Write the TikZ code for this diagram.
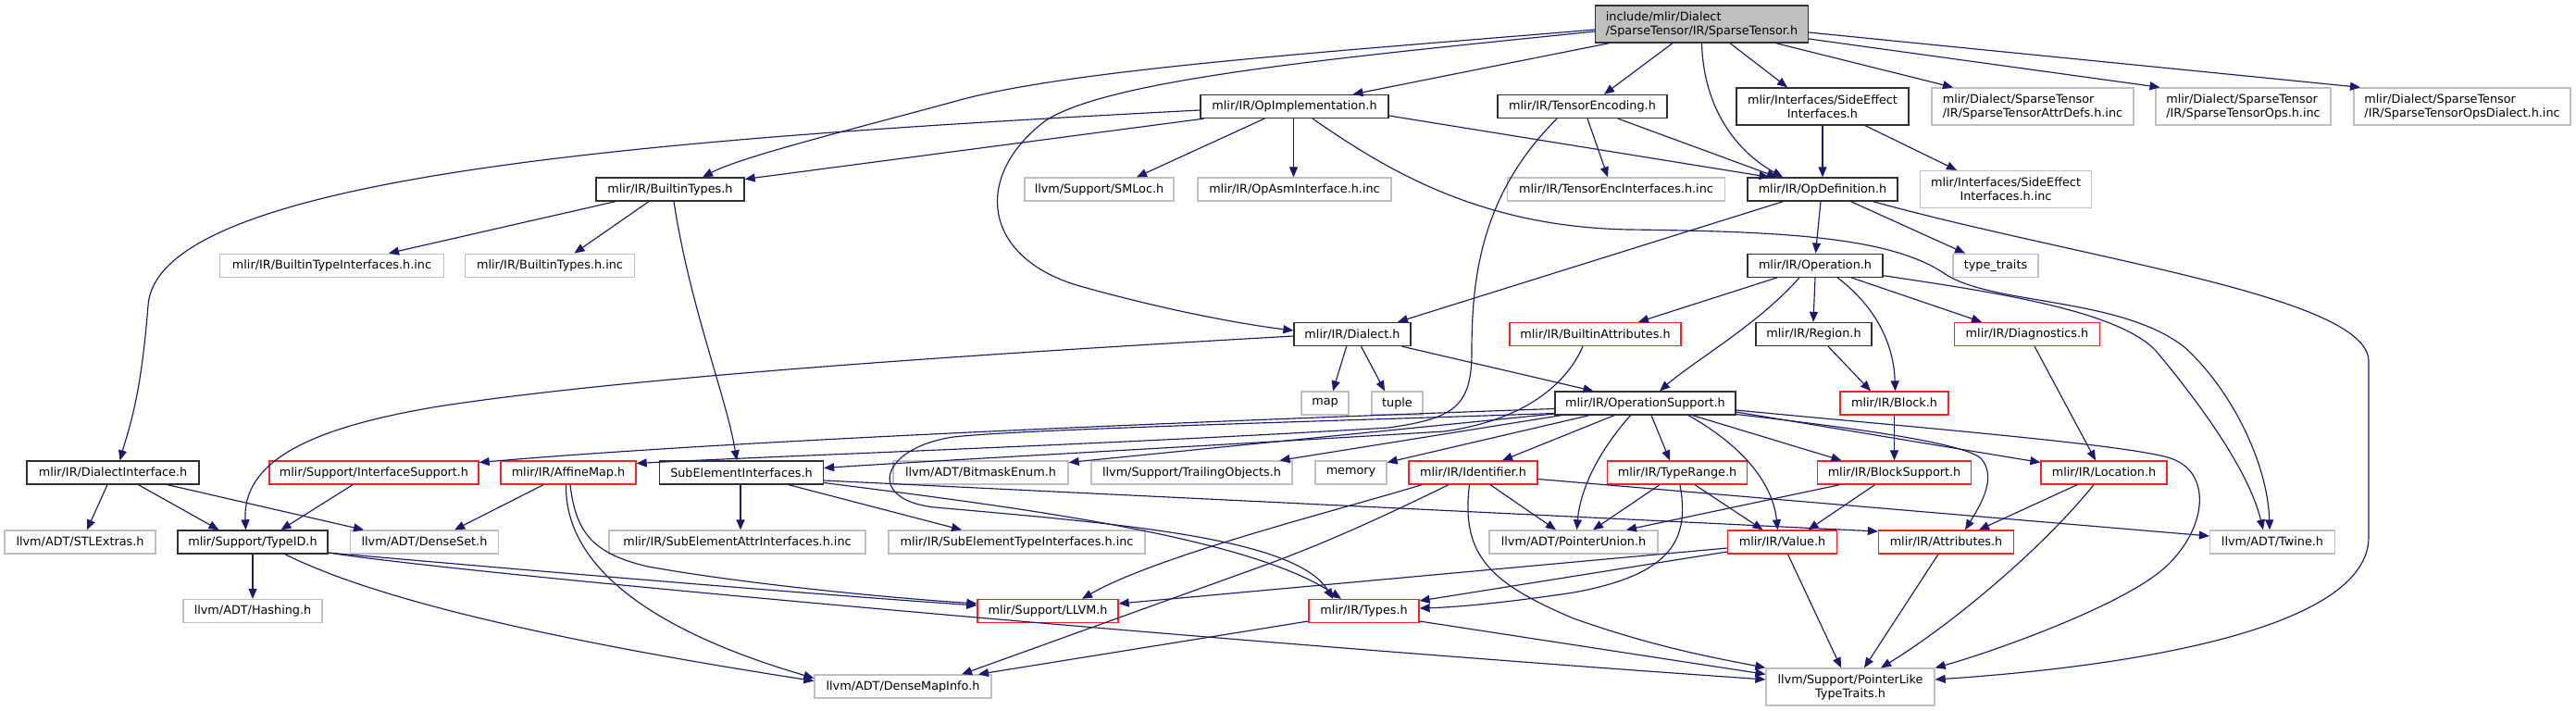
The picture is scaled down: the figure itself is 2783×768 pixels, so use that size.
\documentclass[tikz,border=0pt]{standalone}
\usepackage{fontspec}
\setmainfont{DejaVu Sans}
\usetikzlibrary{arrows.meta}
\definecolor{edgec}{HTML}{191970}
\definecolor{grayb}{HTML}{BFBFBF}
\definecolor{redb}{HTML}{FF2020}
\definecolor{darkb}{HTML}{303030}
\definecolor{rootc}{HTML}{BFBFBF}
\begin{document}
\begin{tikzpicture}[x=1pt,y=-1pt,
  nb/.style={draw, line width=1.3pt, minimum height=25pt, inner xsep=2pt, inner ysep=0pt, fill=white,
    font=\fontsize{12.8}{15}\selectfont},
  blk/.style={nb, draw=darkb},
  gry/.style={nb, draw=grayb},
  rd/.style={nb, draw=redb},
  two/.style={minimum height=40pt, align=left},
  twoc/.style={minimum height=40pt, align=center},
  arr/.style={draw=edgec, line width=1.15pt, -{Triangle[length=11pt,width=9pt]}},
]
\useasboundingbox (0,0) rectangle (2783,768);
% ---------- nodes ----------
\node[blk, fill=rootc, two, minimum width=230] (root) at (1838.5,26) {include/mlir/Dialect\\/SparseTensor/IR/SparseTensor.h};
\node[blk, minimum width=203] (opimpl) at (1398.5,115) {mlir/IR/OpImplementation.h};
\node[blk, minimum width=183] (tenc) at (1709.5,115) {mlir/IR/TensorEncoding.h};
\node[blk, twoc, minimum width=186] (sideeff) at (1969,115) {mlir/Interfaces/SideEffect\\Interfaces.h};
\node[gry, two, minimum width=218] (attrdefs) at (2196,115) {mlir/Dialect/SparseTensor\\/IR/SparseTensorAttrDefs.h.inc};
\node[gry, two, minimum width=189] (opsinc) at (2423.5,115) {mlir/Dialect/SparseTensor\\/IR/SparseTensorOps.h.inc};
\node[gry, two, minimum width=234] (opsdialect) at (2660,115) {mlir/Dialect/SparseTensor\\/IR/SparseTensorOpsDialect.h.inc};
\node[blk, minimum width=160] (btypes) at (724,204.5) {mlir/IR/BuiltinTypes.h};
\node[gry, minimum width=161] (smloc) at (1187.5,204.5) {llvm/Support/SMLoc.h};
\node[gry, minimum width=209] (opasm) at (1398.5,204.5) {mlir/IR/OpAsmInterface.h.inc};
\node[gry, minimum width=235] (tencinc) at (1746,204.5) {mlir/IR/TensorEncInterfaces.h.inc};
\node[blk, minimum width=162] (opdef) at (1969,204.5) {mlir/IR/OpDefinition.h};
\node[gry, twoc, minimum width=185] (sideeffinc) at (2167,204.5) {mlir/Interfaces/SideEffect\\Interfaces.h.inc};
\node[gry, minimum width=242] (btiface) at (358.5,286.7) {mlir/IR/BuiltinTypeInterfaces.h.inc};
\node[gry, minimum width=183] (btinc) at (594,286.7) {mlir/IR/BuiltinTypes.h.inc};
\node[blk, minimum width=146] (operation) at (1961,286.7) {mlir/IR/Operation.h};
\node[gry, minimum width=92] (ttraits) at (2156,286.7) {type\_traits};
\node[blk, minimum width=126] (dialect) at (1461,361) {mlir/IR/Dialect.h};
\node[rd, minimum width=185] (battr) at (1723.5,361) {mlir/IR/BuiltinAttributes.h};
\node[blk, minimum width=125] (region) at (1959.5,361) {mlir/IR/Region.h};
\node[rd, minimum width=157] (diag) at (2190,361) {mlir/IR/Diagnostics.h};
\node[gry, minimum width=51] (map) at (1431.5,435.5) {map};
\node[gry, minimum width=55] (tuple) at (1509.5,435.5) {tuple};
\node[blk, minimum width=195] (opsup) at (1777.5,435.5) {mlir/IR/OperationSupport.h};
\node[rd, minimum width=117] (block) at (2046.5,435.5) {mlir/IR/Block.h};
\node[blk, minimum width=186] (diface) at (122,510.5) {mlir/IR/DialectInterface.h};
\node[rd, minimum width=226] (isupport) at (404,510.5) {mlir/Support/InterfaceSupport.h};
\node[rd, minimum width=146] (amap) at (614,510.5) {mlir/IR/AffineMap.h};
\node[blk, minimum width=177] (subelem) at (801,510.5) {SubElementInterfaces.h};
\node[gry, minimum width=189] (bitmask) at (1059.5,510.5) {llvm/ADT/BitmaskEnum.h};
\node[gry, minimum width=217] (trailing) at (1287.5,510.5) {llvm/Support/TrailingObjects.h};
\node[gry, minimum width=77] (memory) at (1459.5,510.5) {memory};
\node[rd, minimum width=139] (ident) at (1591.5,510.5) {mlir/IR/Identifier.h};
\node[rd, minimum width=151] (trange) at (1812,510.5) {mlir/IR/TypeRange.h};
\node[rd, minimum width=166] (bsupport) at (2046.5,510.5) {mlir/IR/BlockSupport.h};
\node[rd, minimum width=136] (location) at (2273,510.5) {mlir/IR/Location.h};
\node[gry, minimum width=163] (stlx) at (86.5,585.5) {llvm/ADT/STLExtras.h};
\node[blk, minimum width=162] (typeid) at (273,585.5) {mlir/Support/TypeID.h};
\node[gry, minimum width=160] (dset) at (458.5,585.5) {llvm/ADT/DenseSet.h};
\node[gry, minimum width=277] (seattr) at (796.5,585.5) {mlir/IR/SubElementAttrInterfaces.h.inc};
\node[gry, minimum width=277] (setype) at (1098.5,585.5) {mlir/IR/SubElementTypeInterfaces.h.inc};
\node[gry, minimum width=182] (punion) at (1700,585.5) {llvm/ADT/PointerUnion.h};
\node[rd, minimum width=118] (value) at (1925.5,585.5) {mlir/IR/Value.h};
\node[rd, minimum width=146] (attrs) at (2102.5,585.5) {mlir/IR/Attributes.h};
\node[gry, minimum width=135] (twine) at (2455,585.5) {llvm/ADT/Twine.h};
\node[gry, minimum width=150] (hashing) at (273,660) {llvm/ADT/Hashing.h};
\node[rd, minimum width=152] (llvmh) at (1132,660) {mlir/Support/LLVM.h};
\node[rd, minimum width=119] (types) at (1473.5,660) {mlir/IR/Types.h};
\node[gry, minimum width=191] (dmi) at (975.5,741.5) {llvm/ADT/DenseMapInfo.h};
\node[gry, twoc, minimum width=182] (pltt) at (1999,742) {llvm/Support/PointerLike\\TypeTraits.h};
% ---------- edges ----------
% root
\draw[arr] ([yshift=-6]root.west) .. controls (1450,55) and (1150,75) .. (1030,110) .. controls (900,145) and (800,170) .. ([xshift=35]btypes.north);
\draw[arr] ([yshift=-8]root.west) .. controls (1450,62) and (1200,85) .. (1130,130) .. controls (1050,190) and (1060,280) .. (1170,310) .. controls (1260,335) and (1340,350) .. ([yshift=4]dialect.west);
\draw[arr] ([xshift=-100]root.south) -- ([xshift=63]opimpl.north);
\draw[arr] ([xshift=-31.5]root.south) -- ([xshift=23.5]tenc.north);
\draw[arr] (root.south) .. controls (1840,110) and (1870,160) .. ([xshift=-43]opdef.north);
\draw[arr] ([xshift=30.5]root.south) -- ([xshift=-38]sideeff.north);
\draw[arr] ([xshift=80]root.south) -- ([xshift=-86]attrdefs.north);
\draw[arr] ([yshift=-16]root.east) -- ([xshift=-90]opsinc.north);
\draw[arr] ([yshift=-9]root.east) -- ([xshift=-110]opsdialect.north);
% SideEffectInterfaces
\draw[arr] (sideeff.south) -- (opdef.north);
\draw[arr] ([xshift=46]sideeff.south) -- ([xshift=-53]sideeffinc.north);
% OpImplementation
\draw[arr] ([yshift=-4]opimpl.west) .. controls (700,150) and (170,190) .. (160,330) .. controls (152,430) and (140,460) .. ([xshift=7.5]diface.north);
\draw[arr] ([xshift=-98]opimpl.south) -- ([yshift=11]btypes.east);
\draw[arr] ([xshift=-32.5]opimpl.south) -- ([xshift=40.5]smloc.north);
\draw[arr] ([xshift=-1]opimpl.south) -- ([xshift=-1]opasm.north);
\draw[arr] ([yshift=-10]opimpl.east) -- ([xshift=-57.5]opdef.north);
\draw[arr] ([xshift=19.5]opimpl.south) .. controls (1500,185) and (1600,245) .. (1760,248) .. controls (1920,250) and (2040,255) .. (2100,295) .. controls (2150,330) and (2290,320) .. (2360,375) .. controls (2410,420) and (2450,500) .. ([xshift=-3]twine.north);
% TensorEncoding
\draw[arr] ([xshift=5.5]tenc.south) -- ([xshift=-9]tencinc.north);
\draw[arr] ([xshift=38.5]tenc.south) -- ([xshift=-49]opdef.north);
\draw[arr] ([xshift=-27.5]tenc.south) .. controls (1600,210) and (1590,300) .. (1590,380) .. controls (1590,440) and (1570,452) .. (1500,462) .. controls (1200,480) and (850,492) .. ([yshift=10]amap.east);
% BuiltinTypes
\draw[arr] ([xshift=-59]btypes.south) -- ([xshift=61.5]btiface.north);
\draw[arr] ([xshift=-23]btypes.south) -- ([xshift=26.5]btinc.north);
\draw[arr] ([xshift=4]btypes.south) .. controls (745,330) and (785,430) .. ([xshift=-5]subelem.north);
% OpDefinition
\draw[arr] ([xshift=-42.5]opdef.south) -- ([xshift=49]dialect.north);
\draw[arr] ([xshift=-2]opdef.south) -- ([xshift=0.5]operation.north);
\draw[arr] ([xshift=30.5]opdef.south) -- ([xshift=-33]ttraits.north);
\draw[arr] ([xshift=54.5]opdef.south) .. controls (2250,280) and (2558,320) .. (2559,390) -- (2559,580) .. controls (2559,680) and (2300,720) .. ([yshift=8]pltt.east);
% Operation
\draw[arr] ([xshift=-41]operation.south) -- ([xshift=46.5]battr.north);
\draw[arr] ([xshift=-17]operation.south) .. controls (1900,350) and (1830,390) .. ([xshift=15.5]opsup.north);
\draw[arr] ([xshift=0]operation.south) -- ([xshift=-0.5]region.north);
\draw[arr] ([xshift=24]operation.south) .. controls (2025,330) and (2046,370) .. ([xshift=1]block.north);
\draw[arr] ([xshift=39]operation.south) -- ([xshift=-49]diag.north);
\draw[arr] ([yshift=-11]operation.east) .. controls (2150,315) and (2290,335) .. (2330,380) .. controls (2380,440) and (2430,510) .. ([xshift=-10]twine.north);
% Region, Diagnostics, BuiltinAttributes, Block
\draw[arr] ([xshift=15.5]region.south) -- ([xshift=-25.5]block.north);
\draw[arr] ([xshift=8]diag.south) -- ([xshift=-9]location.north);
\draw[arr] ([xshift=-13.5]battr.south) .. controls (1690,420) and (1640,455) .. (1560,466) .. controls (1300,482) and (1000,498) .. ([yshift=5]subelem.east);
\draw[arr] (block.south) -- (bsupport.north);
% Dialect
\draw[arr] ([xshift=-6.3]dialect.south) -- ([xshift=8.5]map.north);
\draw[arr] ([xshift=9.5]dialect.south) -- ([xshift=-13.5]tuple.north);
\draw[arr] ([xshift=53.6]dialect.south) -- ([xshift=-56]opsup.north);
\draw[arr] ([yshift=-2]dialect.west) .. controls (1100,380) and (700,405) .. (480,438) .. controls (330,462) and (262,500) .. ([xshift=-7.5]typeid.north);
% OperationSupport
\draw[arr] ([yshift=-6]opsup.west) .. controls (1300,455) and (800,475) .. ([yshift=11]isupport.east);
\draw[arr] ([yshift=-11]opsup.west) .. controls (1400,456) and (1100,464) .. (1030,472) .. controls (950,484) and (935,540) .. (1010,548) .. controls (1200,565) and (1400,580) .. ([xshift=-33.5]types.north);
\draw[arr] ([yshift=-11.5]opsup.west) -- ([yshift=11]bitmask.east);
\draw[arr] ([xshift=-91]opsup.south) -- ([xshift=95]trailing.north);
\draw[arr] ([xshift=-60.5]opsup.south) -- ([yshift=11]memory.east);
\draw[arr] ([xshift=-33.5]opsup.south) -- ([xshift=31.5]ident.north);
\draw[arr] ([xshift=-16]opsup.south) .. controls (1725,490) and (1707,530) .. ([xshift=3.5]punion.north);
\draw[arr] ([xshift=6.5]opsup.south) -- ([xshift=-8]trange.north);
\draw[arr] ([xshift=46.5]opsup.south) .. controls (1880,480) and (1915,520) .. ([xshift=-5]value.north);
\draw[arr] ([xshift=51]opsup.south) -- ([xshift=-57]bsupport.north);
\draw[arr] ([yshift=-9.5]opsup.east) -- ([yshift=11]location.west);
\draw[arr] ([yshift=-12]opsup.east) .. controls (2000,462) and (2120,478) .. (2140,495) .. controls (2158,515) and (2140,545) .. ([xshift=20.5]attrs.north);
\draw[arr] ([yshift=-7.5]opsup.east) .. controls (2050,460) and (2300,480) .. (2345,495) .. controls (2390,510) and (2385,570) .. (2340,612) .. controls (2295,654) and (2150,705) .. (pltt.north east);
% BlockSupport
\draw[arr] ([xshift=-59]bsupport.south) -- ([xshift=57]punion.north);
\draw[arr] ([xshift=-21]bsupport.south) -- ([xshift=28]value.north);
% Identifier
\draw[arr] ([xshift=18.5]ident.south) -- ([xshift=-19]punion.north);
\draw[arr] ([yshift=-7]ident.east) -- ([yshift=6.5]twine.west);
\draw[arr] ([xshift=-55.5]ident.south) .. controls (1450,550) and (1250,600) .. ([xshift=37]llvmh.north);
\draw[arr] ([xshift=-26.5]ident.south) .. controls (1480,565) and (1420,592) .. (1340,620) -- ([xshift=63.5]dmi.north);
\draw[arr] ([xshift=-4]ident.south) .. controls (1578,600) and (1610,630) .. (1700,668) .. controls (1790,700) and (1860,712) .. (pltt.north west);
% TypeRange
\draw[arr] ([xshift=-19]trange.south) -- ([xshift=21]punion.north);
\draw[arr] ([xshift=19]trange.south) -- ([xshift=-21]value.north);
\draw[arr] ([xshift=3]trange.south) .. controls (1825,580) and (1810,620) .. (1700,640) .. controls (1620,652) and (1570,656) .. ([yshift=3]types.east);
% Value
\draw[arr] ([yshift=-10.5]value.west) -- ([yshift=11]types.east);
\draw[arr] ([yshift=-6.5]value.west) -- ([yshift=8]llvmh.east);
\draw[arr] ([xshift=6]value.south) -- ([xshift=-10]pltt.north);
% Attributes, Location
\draw[arr] ([xshift=-8.5]attrs.south) -- ([xshift=15]pltt.north);
\draw[arr] ([xshift=-29]location.south) -- ([xshift=35.5]attrs.north);
\draw[arr] ([xshift=-11]location.south) .. controls (2200,600) and (2100,680) .. ([xshift=33]pltt.north);
% Types
\draw[arr] ([yshift=-11]types.west) -- ([xshift=81.5]dmi.north);
\draw[arr] ([yshift=-11]types.east) -- ([yshift=-7]pltt.north west);
% SubElementInterfaces
\draw[arr] ([xshift=-1]subelem.south) -- ([xshift=3.5]seattr.north);
\draw[arr] ([xshift=51]subelem.south) -- ([xshift=-59.5]setype.north);
\draw[arr] ([yshift=-8.5]subelem.east) -- ([yshift=11.5]attrs.west);
\draw[arr] ([yshift=-11]subelem.east) .. controls (1100,548) and (1350,580) .. ([xshift=-24.5]types.north);
% DialectInterface, InterfaceSupport
\draw[arr] ([xshift=-6]diface.south) -- ([xshift=7.5]stlx.north);
\draw[arr] ([xshift=27.5]diface.south) -- ([xshift=-36.5]typeid.north);
\draw[arr] ([xshift=59]diface.south) -- ([xshift=-65.5]dset.north);
\draw[arr] ([xshift=-23]isupport.south) -- ([xshift=30.5]typeid.north);
% AffineMap
\draw[arr] ([xshift=-27]amap.south) -- ([xshift=32.5]dset.north);
\draw[arr] ([xshift=2]amap.south) .. controls (622,575) and (640,598) .. (700,612) .. controls (800,630) and (950,645) .. ([yshift=8]llvmh.west);
\draw[arr] ([xshift=-2.5]amap.south) .. controls (610,610) and (700,680) .. ([yshift=9]dmi.west);
% TypeID
\draw[arr] (typeid.south) -- (hashing.north);
\draw[arr] ([yshift=-11.5]typeid.east) .. controls (500,610) and (850,640) .. ([yshift=6]llvmh.west);
\draw[arr] ([yshift=-11.5]typeid.east) .. controls (500,620) and (1300,692) .. ([yshift=8]pltt.west);
\draw[arr] ([xshift=35]typeid.south) .. controls (420,655) and (650,700) .. ([yshift=6]dmi.west);
\end{tikzpicture}
\end{document}
